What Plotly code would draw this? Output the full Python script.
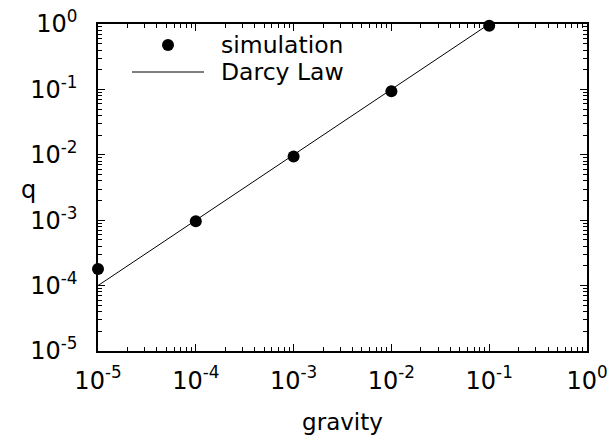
import plotly.graph_objects as go

# data
sim_gravity = [1e-5, 1e-4, 1e-3, 1e-2, 1e-1]
sim_q = [1.8e-4, 9.6e-4, 9.4e-3, 9.4e-2, 0.94]
darcy_gravity = [1e-5, 1e-1]
darcy_q = [1e-4, 1.0]
x_tickvals = [1e-5, 1e-4, 1e-3, 1e-2, 1e-1, 1e0]
x_ticktext = ["10<sup>-5</sup>", "10<sup>-4</sup>", "10<sup>-3</sup>", "10<sup>-2</sup>", "10<sup>-1</sup>", "10<sup>0</sup>"]
y_tickvals = [1e-5, 1e-4, 1e-3, 1e-2, 1e-1, 1e0]
y_ticktext = x_ticktext

FONT = "DejaVu Sans"

fig = go.Figure()
fig.add_trace(go.Scatter(x=darcy_gravity, y=darcy_q, mode="lines",
                         line=dict(color="black", width=1), name="Darcy Law",
                         showlegend=False, cliponaxis=False))
fig.add_trace(go.Scatter(x=sim_gravity, y=sim_q, mode="markers",
                         marker=dict(color="black", size=12), name="simulation",
                         showlegend=False, cliponaxis=False))

axis_common = dict(
    type="log", showgrid=False, zeroline=False, automargin=False,
    showline=True, linecolor="black", linewidth=1.5, mirror="allticks",
    ticks="inside", ticklen=7, tickwidth=1, tickcolor="black",
    minor=dict(ticks="inside", ticklen=4, tickwidth=1, tickcolor="black", dtick="D1"),
    tickfont=dict(family=FONT, size=24, color="black"),
)

fig.update_xaxes(range=[-5, 0], tickmode="array", tickvals=x_tickvals, ticktext=x_ticktext,
                 title=dict(text="gravity", font=dict(family=FONT, size=23, color="black"), standoff=20),
                 ticklabelstandoff=7, **axis_common)
fig.update_yaxes(range=[-5, 0], tickmode="array", tickvals=y_tickvals, ticktext=y_ticktext,
                 ticklabelstandoff=14, **axis_common)

# y-axis title (horizontal, as in the reference)
fig.add_annotation(text="q", xref="paper", yref="paper",
                   x=(28 - 98) / 489, y=(351 - 190) / 327, xanchor="center", yanchor="middle",
                   showarrow=False, font=dict(family=FONT, size=24, color="black"))

# legend (drawn in paper coordinates)
fig.add_shape(type="circle", xref="paper", yref="paper",
              x0=(168 - 6 - 98) / 489, x1=(168 + 6 - 98) / 489,
              y0=(351 - 45 - 6) / 327, y1=(351 - 45 + 6) / 327,
              fillcolor="black", line=dict(color="black", width=0))
fig.add_shape(type="line", xref="paper", yref="paper",
              x0=(132 - 98) / 489, x1=(204 - 98) / 489,
              y0=(351 - 72) / 327, y1=(351 - 72) / 327,
              line=dict(color="black", width=1))
fig.add_annotation(text="simulation", xref="paper", yref="paper",
                   x=(219 - 98) / 489, y=(351 - 45) / 327, xanchor="left", yanchor="middle",
                   showarrow=False, font=dict(family=FONT, size=23.5, color="black"))
fig.add_annotation(text="Darcy Law", xref="paper", yref="paper",
                   x=(219 - 98) / 489, y=(351 - 72) / 327, xanchor="left", yanchor="middle",
                   showarrow=False, font=dict(family=FONT, size=23.5, color="black"))

fig.update_layout(
    width=609, height=438,
    margin=dict(l=98, r=22, t=24, b=87),
    paper_bgcolor="white", plot_bgcolor="white",
    showlegend=False,
    font=dict(family=FONT, color="black"),
)

fig.write_html("out.html", config={"displayModeBar": False},
               post_script="document.body.style.margin='0px';document.body.style.overflow='hidden';")
